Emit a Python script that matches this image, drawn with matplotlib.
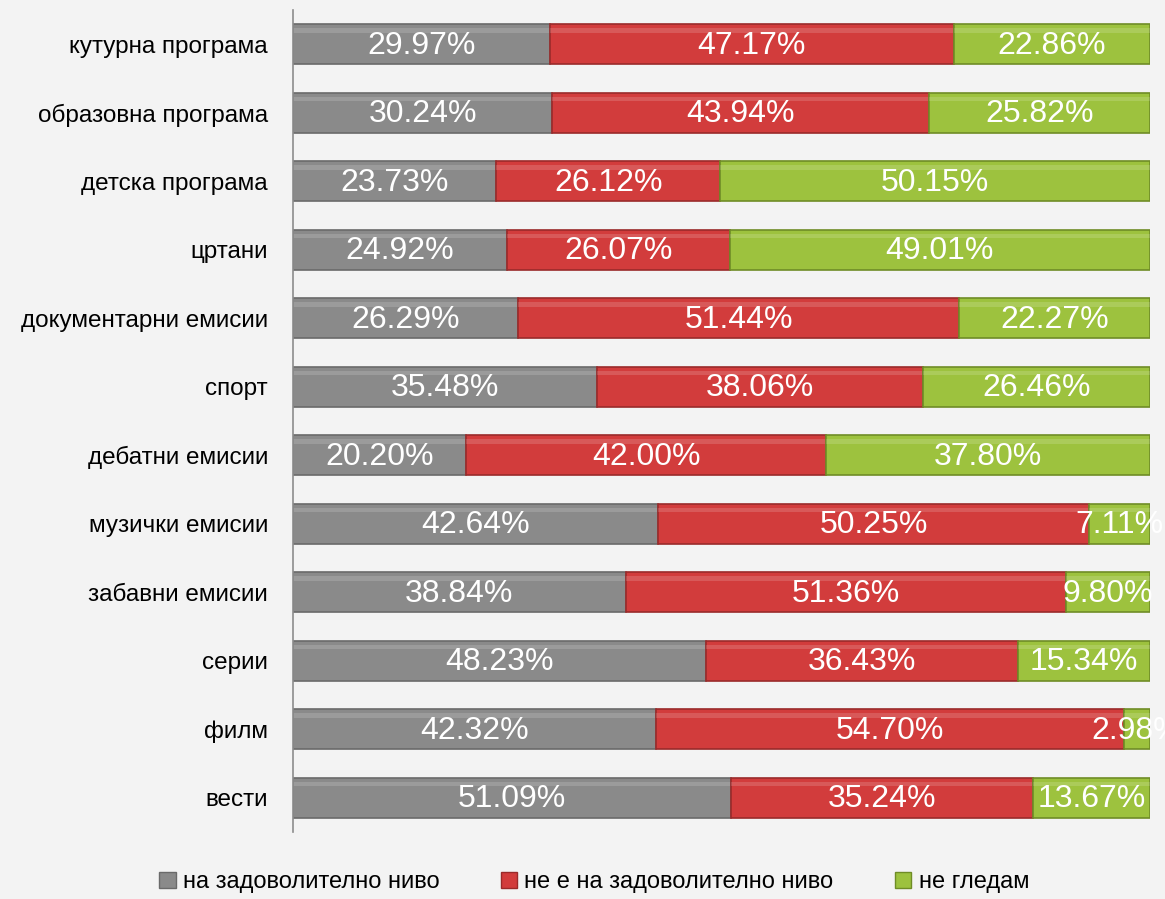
import numpy as np
import matplotlib.pyplot as plt
from matplotlib.patches import Patch

plt.rcParams['font.family'] = ['Liberation Sans', 'DejaVu Sans']

categories = ['кутурна програма', 'образовна програма', 'детска програма', 'цртани',
              'документарни емисии', 'спорт', 'дебатни емисии', 'музички емисии',
              'забавни емисии', 'серии', 'филм', 'вести']
satisfied = [29.97, 30.24, 23.73, 24.92, 26.29, 35.48, 20.20, 42.64, 38.84, 48.23, 42.32, 51.09]
not_satisfied = [47.17, 43.94, 26.12, 26.07, 51.44, 38.06, 42.00, 50.25, 51.36, 36.43, 54.70, 35.24]
not_watching = [22.86, 25.82, 50.15, 49.01, 22.27, 26.46, 37.80, 7.11, 9.80, 15.34, 2.98, 13.67]
series_names = ['на задоволително ниво', 'не е на задоволително ниво', 'не гледам']

colors = ['#8a8a8a', '#d23c3c', '#9dc23e']
edges = ['#6a6a6a', '#9a2a2a', '#6f8c26']

fig = plt.figure(figsize=(11.65, 8.99), dpi=100)
fig.patch.set_facecolor('#f3f3f3')
ax = fig.add_axes([0.2515, 0.0745, 0.7355, 0.9145])
ax.set_facecolor('none')

y = np.arange(len(categories))
left = np.zeros(len(categories))
for vals, c, ec in zip([satisfied, not_satisfied, not_watching], colors, edges):
    vals = np.array(vals)
    ax.barh(y, vals, left=left, height=0.58, color=c, edgecolor=ec, linewidth=1.2)
    # soft highlight near the top for the bevel look
    ax.barh(y - 0.2, vals, left=left, height=0.07, color='white', alpha=0.15, linewidth=0)
    for yi, l, v in zip(y, left, vals):
        ax.text(l + v / 2, yi + 0.02, f'{v:.2f}%', ha='center', va='center',
                color='white', fontsize=23)
    left += vals

ax.set_xlim(0, 100)
ax.set_ylim(len(categories) - 0.5, -0.5)
ax.set_yticks(y)
ax.set_yticklabels(categories, fontsize=17.5)
ax.tick_params(axis='y', length=0, pad=18)
ax.set_xticks([])
for s in ['top', 'right', 'bottom']:
    ax.spines[s].set_visible(False)
ax.spines['left'].set_color('#8c8c8c')
ax.spines['left'].set_linewidth(1.2)

handles = [Patch(facecolor=c, edgecolor=ec) for c, ec in zip(colors, edges)]
fig.legend(handles, series_names, loc='lower center', bbox_to_anchor=(0.51, -0.017),
           ncol=3, frameon=False, fontsize=17, handlelength=0.7, handleheight=0.7,
           handletextpad=0.3, columnspacing=2.6)

fig.savefig('out.png', dpi=100, facecolor=fig.get_facecolor())
